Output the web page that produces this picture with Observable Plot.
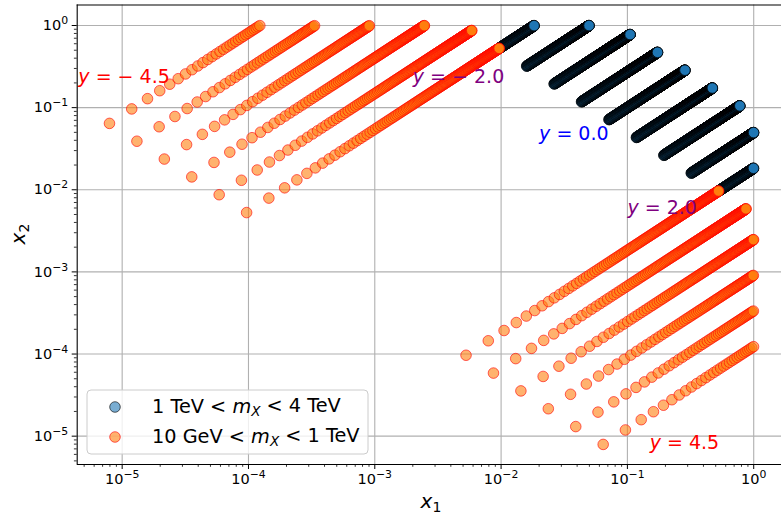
<!DOCTYPE html>
<html>
<head>
<meta charset="utf-8">
<script src="https://cdn.jsdelivr.net/npm/d3@7"></script>
<script src="https://cdn.jsdelivr.net/npm/@observablehq/plot@0.6"></script>
<style>
  body { margin: 0; background: #fff; }
  #chart { position: relative; width: 781px; height: 520px; }
</style>
</head>
<body>
<div id="chart"></div>
<script>
// ---------------- data ----------------
const SQRT_S_GEV = 14000;                 // collider energy
const highMassRapidities = [-2.0, -1.5, -1.0, -0.5, 0.0, 0.5, 1.0, 1.5, 2.0];
const lowMassRapidities = [-4.5, -4.0, -3.5, -3.0, -2.5, -2.0, 2.0, 2.5, 3.0, 3.5, 4.0, 4.5];
const highMassRangeGeV = [1000, 4000];     // 1 TeV < m_X < 4 TeV
const lowMassRangeGeV = [10, 1000];        // 10 GeV < m_X < 1 TeV
const massStepGeV = 5;

const labelRapidities = [-4.5, -2.0, 0.0, 2.0, 4.5];
const labelX1 = [4.5e-6, 2e-3, 2e-2, 1e-1, 1.5e-1];
const labelX2 = [0.2, 0.2, 0.04, 5e-3, 7e-6];

const majorTickExponents = [-5, -4, -3, -2, -1, 0];
const legendEntries = [
  {pre: "1 TeV < ", post: " < 4 TeV", series: "high"},
  {pre: "10 GeV < ", post: " < 1 TeV", series: "low"}
];

// ---------------- build points ----------------
function massGrid([lo, hi]) {
  const out = [];
  for (let m = lo; m <= hi + 1e-9; m += massStepGeV) out.push(m);
  return out;
}
function kinematics(rapidities, range) {
  const pts = [];
  for (const y of rapidities) {
    for (const m of massGrid(range)) {
      const tau = m / SQRT_S_GEV;
      const x1 = tau * Math.exp(y), x2 = tau * Math.exp(-y);
      if (x1 <= 1 && x2 <= 1) pts.push({y, m, x1, x2});
    }
  }
  return pts;
}
const highPts = kinematics(highMassRapidities, highMassRangeGeV);
const lowPts = kinematics(lowMassRapidities, lowMassRangeGeV);
const labels = labelRapidities.map((y, i) => ({y, x1: labelX1[i], x2: labelX2[i]}));

// ---------------- styles ----------------
const BLUE = "#1f77b4", ORANGE = "#ff7f0e", ALPHA = 0.6, R = 5.3;
const labelColor = y => y === 0 ? "blue" : Math.abs(y) === 2 ? "purple" : "red";
const fmtY = y => y < 0 ? "y = \u2212 " + Math.abs(y).toFixed(1) : "y = " + y.toFixed(1);

const majors = majorTickExponents.map(e => Math.pow(10, e));
const xDomain = [Math.pow(10, -5.356), Math.pow(10, 0.220)];
const yDomain = [Math.pow(10, -5.345), Math.pow(10, 0.2496)];
function minorTicks([a, b]) {
  const t = [];
  for (let e = -7; e <= 1; e++) for (let k = 2; k <= 9; k++) {
    const v = k * Math.pow(10, e);
    if (v >= a && v <= b) t.push(v);
  }
  return t;
}

const plot = Plot.plot({
  width: 781, height: 520,
  marginLeft: 76.7, marginRight: 0, marginTop: 4.5, marginBottom: 56,
  style: {fontFamily: "DejaVu Sans", fontSize: "14.5px", color: "black", background: "white"},
  x: {type: "log", domain: xDomain},
  y: {type: "log", domain: yDomain},
  marks: [
    Plot.gridX({ticks: majors, stroke: "#b0b0b0", strokeOpacity: 1, strokeWidth: 1.1}),
    Plot.gridY({ticks: majors, stroke: "#b0b0b0", strokeOpacity: 1, strokeWidth: 1.1}),
    Plot.dot(highPts, {x: "x1", y: "x2", r: R, fill: BLUE, fillOpacity: ALPHA, stroke: "black", strokeOpacity: ALPHA, strokeWidth: 1}),
    Plot.dot(lowPts, {x: "x1", y: "x2", r: R, fill: ORANGE, fillOpacity: ALPHA, stroke: "red", strokeOpacity: ALPHA, strokeWidth: 1}),
    Plot.text(labels, {x: "x1", y: "x2", text: d => fmtY(d.y), fill: d => labelColor(d.y), textAnchor: "start", lineAnchor: "bottom", fontSize: 19}),
    Plot.axisX({ticks: majors, tickSize: 5, tickPadding: 4, tickFormat: d => "10^" + Math.round(Math.log10(d)), label: null}),
    Plot.axisX({ticks: minorTicks(xDomain), tickSize: 2.8, strokeWidth: 0.8, tickFormat: () => "", label: null}),
    Plot.axisY({ticks: majors, tickSize: 5, tickPadding: 4, tickFormat: d => "10^" + Math.round(Math.log10(d)), label: null}),
    Plot.axisY({ticks: minorTicks(yDomain), tickSize: 2.8, strokeWidth: 0.8, tickFormat: () => "", label: null}),
    Plot.ruleX([xDomain[0]], {stroke: "black", strokeWidth: 1.1}),
    Plot.ruleY([yDomain[0]], {stroke: "black", strokeWidth: 1.1}),
    Plot.ruleY([yDomain[1]], {stroke: "black", strokeWidth: 1.1})
  ]
});

const svg = d3.select(plot);
// superscript tick labels
svg.selectAll("text").each(function () {
  const t = this.textContent;
  const m = t.match(/^10\^(-?\d+)$/);
  if (!m) return;
  const e = +m[1];
  const s = d3.select(this);
  s.text(null);
  s.append("tspan").text("10");
  s.append("tspan").attr("dy", "-0.55em").attr("font-size", "0.75em").text(e < 0 ? "\u2212" + (-e) : String(e));
});
// italic y in rapidity labels
svg.selectAll("text").each(function () {
  const t = this.textContent;
  if (!/^y = /.test(t)) return;
  const s = d3.select(this).style("white-space", "pre");
  s.text(null);
  s.append("tspan").attr("font-style", "italic").text("y");
  s.append("tspan").text(t.slice(1));
});

// axis titles
const axisFont = 20;
const xl = svg.append("text").attr("x", 431).attr("y", 508).attr("text-anchor", "middle")
  .attr("font-size", axisFont).attr("fill", "black");
xl.append("tspan").attr("font-style", "italic").text("x");
xl.append("tspan").attr("font-size", "0.7em").attr("dy", "0.25em").text("1");
const yl = svg.append("text").attr("transform", "translate(25,234) rotate(-90)").attr("text-anchor", "middle")
  .attr("font-size", axisFont).attr("fill", "black");
yl.append("tspan").attr("font-style", "italic").text("x");
yl.append("tspan").attr("font-size", "0.7em").attr("dy", "0.25em").text("2");

// legend
const lg = svg.append("g").attr("transform", "translate(87,390)").attr("text-anchor", "start");
lg.append("rect").attr("width", 281).attr("height", 64).attr("rx", 4)
  .attr("fill", "white").attr("fill-opacity", 0.8).attr("stroke", "#cccccc").attr("stroke-width", 1);
legendEntries.forEach((d, i) => {
  const cy = 17 + i * 30;
  const hi = d.series === "high";
  lg.append("circle").attr("cx", 28).attr("cy", cy).attr("r", R)
    .attr("fill", hi ? BLUE : ORANGE).attr("fill-opacity", ALPHA)
    .attr("stroke", hi ? "black" : "red").attr("stroke-opacity", ALPHA);
  const tx = lg.append("text").attr("x", 65).attr("y", cy + 6).attr("font-size", 19.3)
    .attr("text-anchor", "start").attr("fill", "black").style("white-space", "pre");
  tx.append("tspan").text(d.pre);
  tx.append("tspan").attr("font-style", "italic").text("m");
  tx.append("tspan").attr("font-style", "italic").attr("font-size", "0.7em").attr("dy", "0.25em").text("X");
  tx.append("tspan").attr("dy", "-0.25em").text(d.post);
});

document.getElementById("chart").appendChild(plot);
</script>
</body>
</html>
